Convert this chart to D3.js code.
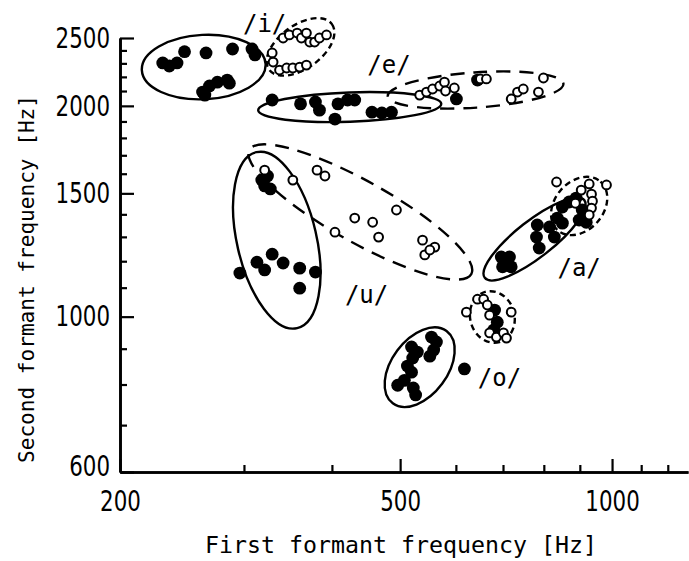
<!DOCTYPE html>
<html>
<head>
<meta charset="utf-8">
<script src="https://cdn.jsdelivr.net/npm/d3@7"></script>
<style>
  html, body { margin: 0; padding: 0; background: #fff; }
  svg { display: block; }
</style>
</head>
<body>
<svg id="chart" width="689" height="561"></svg>
<script>
// Formant measurements [F1, F2] in Hz, per vowel; "filled" and "open" are the two speaker groups.
const iFilled = [[230,2303],[235,2280],[241,2303],[247,2390],[265,2380],[289,2411],[308,2411],[311,2365],
                 [262,2093],[264,2072],[268,2135],[275,2162],[284,2177],[286,2155]];
const iOpen   = [[341,2500],[348,2525],[357,2541],[362,2500],[368,2541],[372,2467],[378,2467],[384,2500],
                 [393,2525],[330,2310],[337,2250],[345,2265],[352,2265],[360,2272],[368,2287],[329,2380]];
const eFilled = [[329,2039],[361,2013],[379,2026],[384,1972],[404,1915],[408,2013],[421,2039],[431,2039],
                 [456,1959],[471,1954],[486,1959],[601,2046],[644,2177]];
const eOpen   = [[533,2072],[545,2093],[556,2114],[569,2135],[578,2162],[580,2100],[597,2121],[650,2185],
                 [663,2185],[719,2046],[734,2093],[748,2114],[786,2093],[799,2192]];
const uFilled = [[318,1567],[324,1588],[321,1537],[327,1522],[296,1154],[313,1196],[321,1166],[329,1228],
                 [341,1193],[360,1173],[379,1158],[360,1098]];
const uOpen   = [[321,1619],[352,1567],[381,1619],[391,1588],[404,1320],[431,1383],[457,1364],[466,1299],
                 [494,1420],[538,1286],[560,1257],[542,1225],[551,1245]];
const aFilled = [[696,1217],[715,1217],[699,1178],[719,1178],[783,1352],[781,1299],[788,1253],[815,1343],
                 [828,1299],[836,1383],[850,1434],[869,1458],[889,1477],[907,1420],[898,1374],[919,1364],[850,1360]];
const aOpen   = [[834,1557],[928,1547],[982,1542],[935,1496],[938,1462],[935,1429],[928,1397],[887,1452],[904,1516]];
const oFilled = [[519,905],[529,890],[521,873],[512,850],[519,833],[507,811],[496,798],[522,791],[526,773],
                 [554,935],[563,920],[558,896],[551,878],[617,842],[681,1022],[687,982],[679,957]];
const oOpen   = [[621,1015],[644,1059],[657,1059],[665,1039],[670,1005],[719,1015],[670,948],[685,935],[701,948],[708,932]];

// Group ellipses: centre, end of the major axis (both in Hz) and minor/major axis ratio.
const ellipseGroup  = ["filled","open","filled","open","filled","open","filled","open","filled","open"];
const ellipseCenter = [[263,2272],[361,2428],[424,1992],[640,2107],[334,1286],[439,1411],[776,1291],[898,1439],[533,847],[676,999]];
const ellipseTip    = [[322,2295],[400,2617],[572,2013],[853,2150],[357,963],[631,1150],[913,1467],[963,1559],[582,954],[692,920]];
const ellipseRatio  = [0.52, 0.56, 0.16, 0.2, 0.44, 0.24, 0.29, 0.75, 0.62, 0.85];

// Vowel labels and where they sit (Hz).
const labelText = ["/i/","/e/","/u/","/a/","/o/"];
const labelAt   = [[321,2617],[482,2287],[448,1074],[898,1173],[692,817]];

// Axis ticks.
const xTickLabels = [200, 500, 1000];
const xMinorTicks = [300, 400, 600, 700, 800, 900, 1100, 1200];
const yTickLabels = [600, 1000, 1500, 2000, 2500];
const yMinorTicks = [700, 800, 900, 1100, 1200, 1300, 1400, 1600, 1700, 1800, 1900, 2100, 2200, 2300, 2400];

const svg = d3.select("#chart");
const x = d3.scaleLog().domain([200, 1282]).range([120, 688]);
const y = d3.scaleLog().domain([600, 2500]).range([472, 38]);

const tickFont = "'DejaVu Sans', 'Liberation Sans', sans-serif";
const monoFont = "'DejaVu Sans Mono', 'Liberation Mono', monospace";

// Axes
function styleAxis(g) {
  g.selectAll("path.domain").attr("stroke", "#000").attr("stroke-width", 2.6);
  g.selectAll(".tick line").attr("stroke", "#000").attr("stroke-width", 2.2);
  g.selectAll(".tick text")
    .attr("fill", "#000").attr("font-family", tickFont).attr("font-size", 29)
    // narrow, tall numerals
    .attr("textLength", function() { return this.textContent.length * 13.6; })
    .attr("lengthAdjust", "spacingAndGlyphs");
}

svg.append("g").attr("transform", "translate(120,0)")
  .call(d3.axisLeft(y).tickValues(yMinorTicks).tickSizeInner(-7).tickSizeOuter(0).tickFormat(""))
  .call(styleAxis);
const yLab = svg.append("g").attr("transform", "translate(120,0)")
  .call(d3.axisLeft(y).tickValues(yTickLabels).tickSizeInner(-14).tickSizeOuter(0).tickPadding(10).tickFormat(d3.format("d")))
  .call(styleAxis);
// corner label sits a little higher so it clears the x-axis "200"
yLab.selectAll(".tick text").filter(d => d === 600).attr("dy", "0.12em");

svg.append("g").attr("transform", "translate(0,472)")
  .call(d3.axisBottom(x).tickValues(xMinorTicks).tickSizeInner(-7).tickSizeOuter(0).tickFormat(""))
  .call(styleAxis);
svg.append("g").attr("transform", "translate(0,472)")
  .call(d3.axisBottom(x).tickValues(xTickLabels).tickSizeInner(-13).tickSizeOuter(0).tickPadding(18).tickFormat(d3.format("d")))
  .call(styleAxis);

// Axis titles
svg.append("text")
  .attr("x", 401).attr("y", 553)
  .attr("text-anchor", "middle")
  .attr("font-family", monoFont).attr("font-size", 23)
  .attr("textLength", 392).attr("lengthAdjust", "spacingAndGlyphs")
  .text("First formant frequency [Hz]");

svg.append("text")
  .attr("transform", "translate(34,279) rotate(-90)")
  .attr("text-anchor", "middle")
  .attr("font-family", monoFont).attr("font-size", 22)
  .attr("textLength", 368).attr("lengthAdjust", "spacingAndGlyphs")
  .text("Second formant frequency [Hz]");

// Ellipses
const ell = svg.append("g").attr("fill", "none").attr("stroke", "#000").attr("stroke-width", 2.4);
ellipseCenter.forEach((c, i) => {
  const cx = x(c[0]), cy = y(c[1]);
  const tx = x(ellipseTip[i][0]), ty = y(ellipseTip[i][1]);
  const a = Math.hypot(tx - cx, ty - cy);
  const ang = Math.atan2(ty - cy, tx - cx) * 180 / Math.PI;
  const e = ell.append("ellipse")
    .attr("cx", 0).attr("cy", 0)
    .attr("rx", a).attr("ry", a * ellipseRatio[i])
    .attr("transform", `translate(${cx},${cy}) rotate(${ang})`);
  if (ellipseGroup[i] === "open") {
    e.attr("stroke-dasharray", a > 60 ? "14,9" : "6,4");
  }
});

// Points
const filledSets = [iFilled, eFilled, uFilled, aFilled, oFilled];
const openSets   = [iOpen, eOpen, uOpen, aOpen, oOpen];

const pts = svg.append("g");
filledSets.forEach(set => {
  pts.selectAll(null).data(set).join("circle")
    .attr("cx", d => x(d[0])).attr("cy", d => y(d[1]))
    .attr("r", 6.4).attr("fill", "#000");
});
openSets.forEach(set => {
  pts.selectAll(null).data(set).join("circle")
    .attr("cx", d => x(d[0])).attr("cy", d => y(d[1]))
    .attr("r", 4.4).attr("fill", "#fff").attr("stroke", "#000").attr("stroke-width", 2);
});

// Vowel labels
svg.append("g").selectAll("text").data(labelText).join("text")
  .attr("x", (d, i) => x(labelAt[i][0]))
  .attr("y", (d, i) => y(labelAt[i][1]))
  .attr("text-anchor", "middle").attr("dominant-baseline", "central")
  .attr("font-family", monoFont).attr("font-size", 24)
  .text(d => d);
</script>
</body>
</html>
